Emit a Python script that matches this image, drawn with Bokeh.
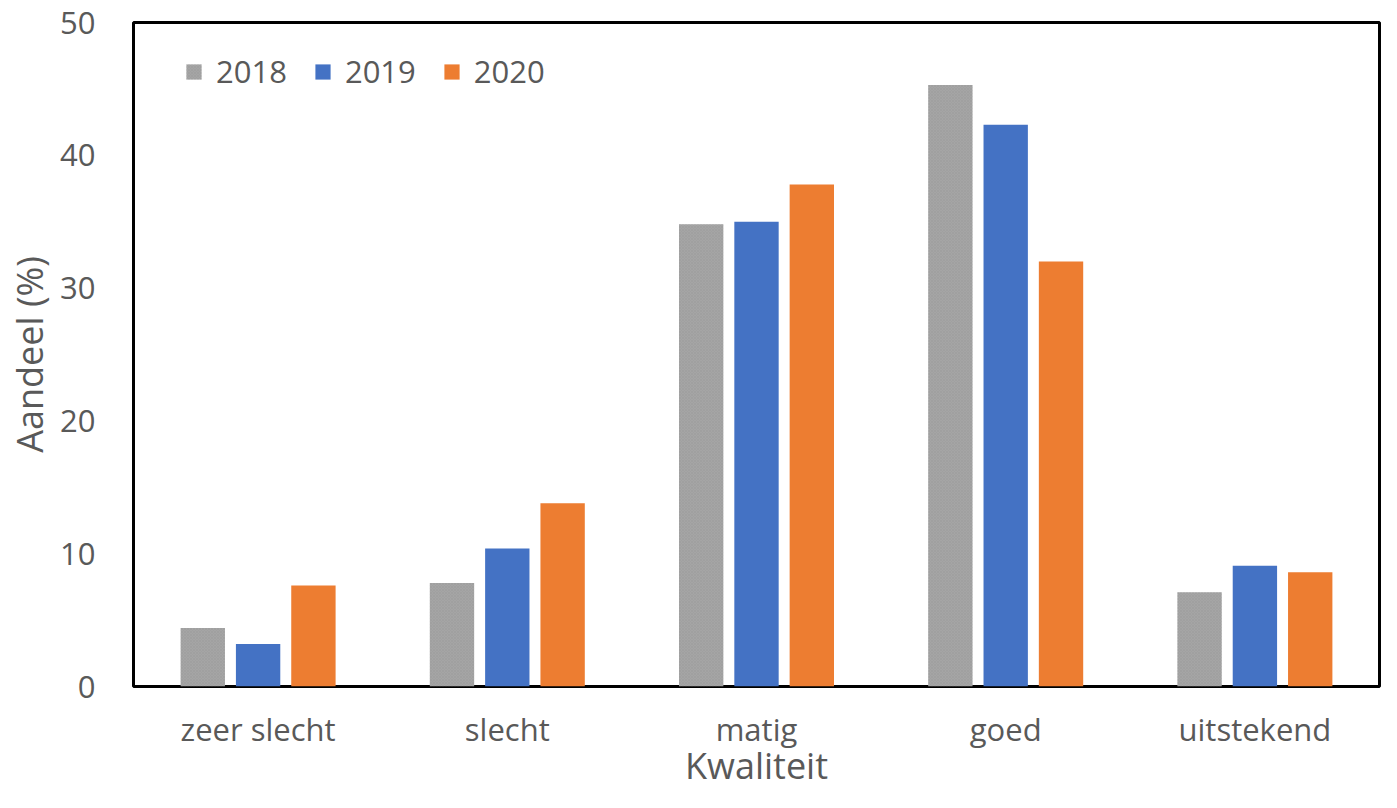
from bokeh.plotting import figure
from bokeh.models import ColumnDataSource, FactorRange, Range1d, Legend, LegendItem, FixedTicker
from bokeh.transform import dodge
from bokeh.embed import file_html
from bokeh.resources import INLINE

categories = ["zeer slecht", "slecht", "matig", "goed", "uitstekend"]
years = ["2018", "2019", "2020"]
v2018 = [4.4, 7.8, 34.8, 45.3, 7.1]
v2019 = [3.2, 10.4, 35.0, 42.3, 9.1]
v2020 = [7.6, 13.8, 37.8, 32.0, 8.6]
colors = ["#A5A5A5", "#4472C4", "#ED7D31"]
yticks = [0, 10, 20, 30, 40, 50]

FONT = "Open Sans"
TXT = "#595959"

src = ColumnDataSource(dict(cat=categories, y2018=v2018, y2019=v2019, y2020=v2020))

p = figure(x_range=FactorRange(*categories), y_range=Range1d(0, 50),
           width=1381, height=792, output_backend="svg", toolbar_location=None,
           min_border_left=133, min_border_top=22, min_border_right=2, min_border_bottom=106)

w = 0.178
offs = [-0.222, 0.0, 0.222]
renderers = []
for yr, col, off in zip(years, colors, offs):
    kw = {}
    if yr == "2018":
        kw = dict(hatch_pattern="x", hatch_scale=3, hatch_color="#8C8C8C", hatch_alpha=0.35, hatch_weight=0.6)
    r = p.vbar(x=dodge("cat", off, range=p.x_range), top="y" + yr, width=w, source=src,
               fill_color=col, line_color=None, **kw)
    renderers.append(r)

legend = Legend(items=[LegendItem(label=yr, renderers=[r]) for yr, r in zip(years, renderers)],
                orientation="horizontal", location=(51, 594),
                border_line_color=None, background_fill_alpha=0,
                label_text_font=FONT, label_text_font_size="31px", label_text_color=TXT,
                glyph_width=19, glyph_height=19, label_standoff=13, spacing=26,
                padding=0, margin=0)
p.add_layout(legend, "center")

p.outline_line_color = "black"
p.outline_line_width = 3
p.xgrid.grid_line_color = None
p.ygrid.grid_line_color = None
p.background_fill_color = "white"
p.border_fill_color = "white"

for ax in (p.xaxis[0], p.yaxis[0]):
    ax.axis_line_color = None
    ax.major_tick_line_color = None
    ax.minor_tick_line_color = None
    ax.major_label_text_font = FONT
    ax.major_label_text_color = TXT
    ax.major_label_text_font_size = "31px"
    ax.axis_label_text_font = FONT
    ax.axis_label_text_color = TXT
    ax.axis_label_text_font_size = "36px"
    ax.axis_label_text_font_style = "normal"

p.yaxis[0].ticker = FixedTicker(ticks=yticks)
p.yaxis[0].major_label_standoff = 32
p.yaxis[0].axis_label = "Aandeel (%)"
p.yaxis[0].axis_label_standoff = 3
p.xaxis[0].major_label_standoff = 15
p.xaxis[0].axis_label = "Kwaliteit"
p.xaxis[0].axis_label_standoff = -12

open("out.html", "w").write(file_html(p, INLINE))
